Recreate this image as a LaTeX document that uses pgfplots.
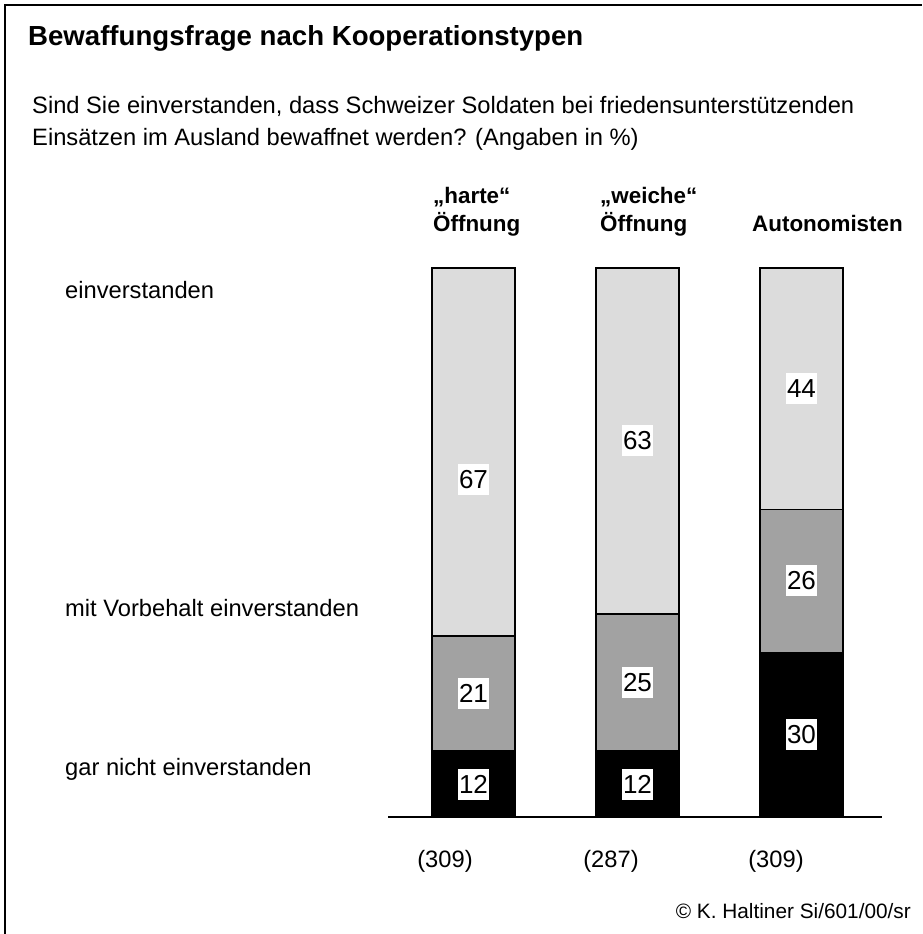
\documentclass[border=0pt]{standalone}
\usepackage{fontspec}
\setmainfont{Liberation Sans}
\usepackage{pgfplots}
\pgfplotsset{compat=1.18}
\definecolor{lightpat}{RGB}{220,220,220}
\definecolor{midpat}{RGB}{162,162,162}
\newcommand{\reg}{\fontsize{23.7}{28}\selectfont}
\newcommand{\hdr}{\fontsize{22.4}{28}\selectfont\bfseries}
\begin{document}
\begin{tikzpicture}[x=1pt,y=-1pt]
\useasboundingbox (0,0) rectangle (922,934);
\draw[line width=2pt] (5,934) -- (5,5) -- (922,5);
\node[anchor=base west, inner sep=0pt, font=\fontsize{27.6}{32}\selectfont\bfseries] at (28,46) {Bewaffungsfrage nach Kooperationstypen};
\node[anchor=base west, inner sep=0pt, font=\reg] at (32,113) {Sind Sie einverstanden, dass Schweizer Soldaten bei friedensunterstützenden};
\node[anchor=base west, inner sep=0pt, font=\reg] at (32,145) {Einsätzen im Ausland bewaffnet werden? (Angaben in \%)};
\node[anchor=base west, inner sep=0pt, font=\hdr] at (433,203) {„harte“};
\node[anchor=base west, inner sep=0pt, font=\hdr] at (433,231) {Öffnung};
\node[anchor=base west, inner sep=0pt, font=\hdr] at (600,203) {„weiche“};
\node[anchor=base west, inner sep=0pt, font=\hdr] at (600,231) {Öffnung};
\node[anchor=base west, inner sep=0pt, font=\hdr] at (752,231) {Autonomisten};
\node[anchor=base west, inner sep=0pt, font=\reg] at (65,298) {einverstanden};
\node[anchor=base west, inner sep=0pt, font=\reg] at (65,616) {mit Vorbehalt einverstanden};
\node[anchor=base west, inner sep=0pt, font=\reg] at (65,775) {gar nicht einverstanden};
\node[anchor=base, inner sep=0pt, font=\reg] at (445,867) {(309)};
\node[anchor=base, inner sep=0pt, font=\reg] at (611,867) {(287)};
\node[anchor=base, inner sep=0pt, font=\reg] at (776,867) {(309)};
\node[anchor=base east, inner sep=0pt, font=\fontsize{20.8}{24}\selectfont] at (911,918) {© K. Haltiner Si/601/00/sr};
\begin{axis}[
  at={(388pt,-817pt)}, anchor=south west,
  width=494pt, height=549pt, scale only axis,
  xmin=-0.5213, xmax=2.4909, ymin=0, ymax=100,
  hide axis, clip=false,
  ybar stacked, bar width=83pt,
]
\addplot[fill=black, draw=black, line width=1.6pt] coordinates {(0,12) (1,12) (2,30)};
\addplot[fill=midpat, draw=black, line width=1.6pt] coordinates {(0,21) (1,25) (2,26)};
\addplot[fill=lightpat, draw=black, line width=1.6pt] coordinates {(0,67) (1,63) (2,44)};
\draw[line width=1.5pt] (rel axis cs:0,0) -- (rel axis cs:1,0);
\end{axis}
\begin{axis}[
  at={(388pt,-817pt)}, anchor=south west,
  width=494pt, height=549pt, scale only axis,
  xmin=-0.5213, xmax=2.4909, ymin=0, ymax=100,
  hide axis, clip=false,
]
\addplot[only marks, mark=*, mark size=0pt, draw=none,
  nodes near coords, point meta=explicit symbolic,
  every node near coord/.append style={anchor=center, fill=white, inner xsep=1pt, inner ysep=0pt, minimum height=31pt, font=\fontsize{26}{30}\selectfont}]
  coordinates {(0,6)[12] (0,22.5)[21] (0,61.5)[67]
               (1,6)[12] (1,24.5)[25] (1,68.5)[63]
               (2,15)[30] (2,43)[26] (2,78)[44]};
\end{axis}
\end{tikzpicture}
\end{document}
